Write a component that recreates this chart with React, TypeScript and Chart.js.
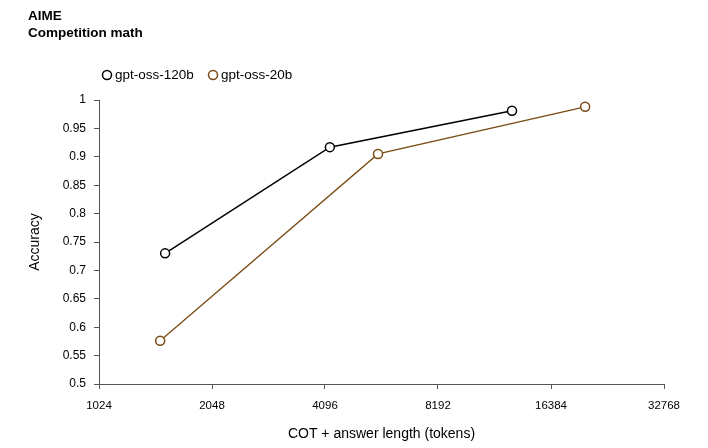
import React, { useEffect, useRef } from 'react';
import { Chart, registerables } from 'chart.js';

Chart.register(...registerables);

const titleLines = ['AIME', 'Competition math'];
const seriesNames = ['gpt-oss-120b', 'gpt-oss-20b'];
const seriesColors = ['#000000', '#7a4a14'];
const tokens120b = [1536, 4220, 12900];
const accuracy120b = [0.73, 0.917, 0.981];
const tokens20b = [1490, 5670, 20200];
const accuracy20b = [0.576, 0.905, 0.988];
const xTickValues = [1024, 2048, 4096, 8192, 16384, 32768];
const xTitle = 'COT + answer length (tokens)';
const yTitle = 'Accuracy';

const FONT = '"Liberation Sans", Arial, sans-serif';

const overlayPlugin = {
  id: 'overlay',
  afterDraw(chart: any) {
    const ctx = chart.ctx;
    ctx.save();
    ctx.fillStyle = '#000';
    ctx.textAlign = 'left';
    ctx.textBaseline = 'middle';
    ctx.font = `bold 13.5px ${FONT}`;
    ctx.fillText(titleLines[0], 28, 16);
    ctx.fillText(titleLines[1], 28, 33);

    ctx.font = `13.5px ${FONT}`;
    const legendX = [107, 213];
    chart.data.datasets.forEach((ds: any, i: number) => {
      const cx = legendX[i];
      const cy = 75;
      ctx.beginPath();
      ctx.arc(cx, cy, 4.5, 0, Math.PI * 2);
      ctx.fillStyle = '#fff';
      ctx.fill();
      ctx.lineWidth = 1.5;
      ctx.strokeStyle = ds.borderColor;
      ctx.stroke();
      ctx.fillStyle = '#000';
      ctx.fillText(ds.label, cx + 8, cy + 0.5);
    });
    ctx.restore();
  },
};

export default function App() {
  const ref = useRef<HTMLCanvasElement | null>(null);

  useEffect(() => {
    if (!ref.current) return;
    const makePoints = (xs: number[], ys: number[]) => xs.map((x, i) => ({ x, y: ys[i] }));
    const chart = new Chart(ref.current, {
      type: 'line',
      data: {
        datasets: [
          {
            label: seriesNames[0],
            data: makePoints(tokens120b, accuracy120b),
            borderColor: seriesColors[0],
            backgroundColor: '#ffffff',
            borderWidth: 1.5,
            pointRadius: 4.5,
            pointBorderWidth: 1.5,
            pointBackgroundColor: '#ffffff',
            pointBorderColor: seriesColors[0],
          },
          {
            label: seriesNames[1],
            data: makePoints(tokens20b, accuracy20b),
            borderColor: seriesColors[1],
            backgroundColor: '#ffffff',
            borderWidth: 1.3,
            pointRadius: 4.5,
            pointBorderWidth: 1.5,
            pointBackgroundColor: '#ffffff',
            pointBorderColor: seriesColors[1],
          },
        ],
      },
      options: {
        animation: false,
        responsive: true,
        maintainAspectRatio: false,
        layout: { padding: { left: 0, right: 44, top: 100, bottom: 0 } },
        plugins: {
          legend: { display: false },
          title: { display: false },
          tooltip: { enabled: false },
        },
        scales: {
          x: {
            type: 'logarithmic',
            min: 1024,
            max: 32768,
            afterBuildTicks: (scale: any) => {
              scale.ticks = xTickValues.map((v) => ({ value: v }));
            },
            afterFit: (scale: any) => {
              scale.height = 64;
            },
            ticks: {
              autoSkip: false,
              maxRotation: 0,
              padding: 10,
              color: '#000',
              font: { family: FONT, size: 11.5 },
              callback: (v: any) => String(v),
            },
            grid: {
              display: true,
              drawOnChartArea: false,
              drawTicks: true,
              tickLength: 5,
              color: '#555',
            },
            border: { display: true, color: '#555', width: 1 },
            title: {
              display: true,
              text: xTitle,
              color: '#000',
              font: { family: FONT, size: 14 },
              padding: { top: 0, bottom: 5 },
            },
          },
          y: {
            type: 'linear',
            min: 0.5,
            max: 1,
            afterFit: (scale: any) => {
              scale.width = 99;
            },
            ticks: {
              stepSize: 0.05,
              padding: 8,
              color: '#000',
              font: { family: FONT, size: 12 },
              callback: (v: any) => String(Number(Number(v).toFixed(2))),
            },
            grid: {
              display: true,
              drawOnChartArea: false,
              drawTicks: true,
              tickLength: 5,
              color: '#555',
            },
            border: { display: true, color: '#555', width: 1 },
            title: {
              display: true,
              text: yTitle,
              color: '#000',
              font: { family: FONT, size: 14 },
              padding: { top: 27, bottom: 0 },
            },
          },
        },
      },
      plugins: [overlayPlugin],
    } as any);
    return () => chart.destroy();
  }, []);

  return (
    <div style={{ position: 'absolute', left: 0, top: 0, width: 708, height: 448, background: '#fff' }}>
      <canvas ref={ref} />
    </div>
  );
}
